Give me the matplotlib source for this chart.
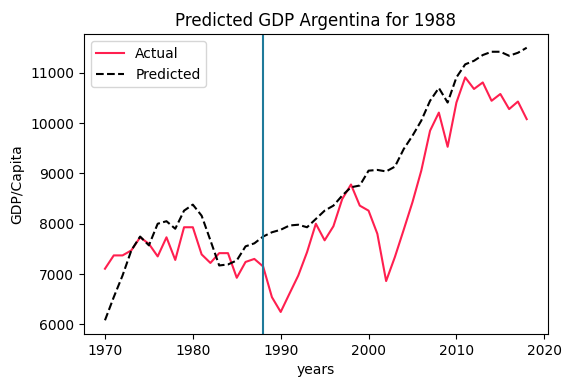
import matplotlib
matplotlib.use('Agg')
import matplotlib.pyplot as plt
import numpy as np

years = np.arange(1970, 2019)
actual = [7105, 7370, 7370, 7470, 7730, 7600, 7350, 7730, 7280, 7930,
          7930, 7390, 7220, 7415, 7415, 6925, 7240, 7300, 7150, 6540,
          6245, 6610, 6970, 7435, 8000, 7670, 7950, 8490, 8780, 8360,
          8260, 7800, 6860, 7340, 7880, 8430, 9055, 9850, 10210, 9530,
          10410, 10910, 10680, 10810, 10445, 10580, 10280, 10430, 10080]
predicted = [6080, 6540, 6970, 7470, 7745, 7570, 8000, 8050, 7900, 8260,
             8380, 8160, 7670, 7170, 7190, 7270, 7550, 7610, 7745, 7830,
             7880, 7965, 7980, 7930, 8095, 8260, 8360, 8560, 8725, 8760,
             9055, 9070, 9040, 9135, 9485, 9750, 10050, 10445, 10700, 10410,
             10910, 11170, 11240, 11355, 11420, 11420, 11340, 11400, 11500]
split_year = 1988

fig = plt.figure(figsize=(5.63, 3.79), dpi=100)
ax = fig.add_axes([0.149, 0.119, 0.824, 0.791])
ax.plot(years, actual, color='#ff1f4f', label='Actual')
ax.plot(years, predicted, color='black', linestyle='--', label='Predicted')
ax.axvline(split_year, color='#1f7a9a')
ax.set_title('Predicted GDP Argentina for 1988')
ax.set_xlabel('years')
ax.set_ylabel('GDP/Capita')
ax.legend(loc='upper left')
fig.savefig('out.png')
